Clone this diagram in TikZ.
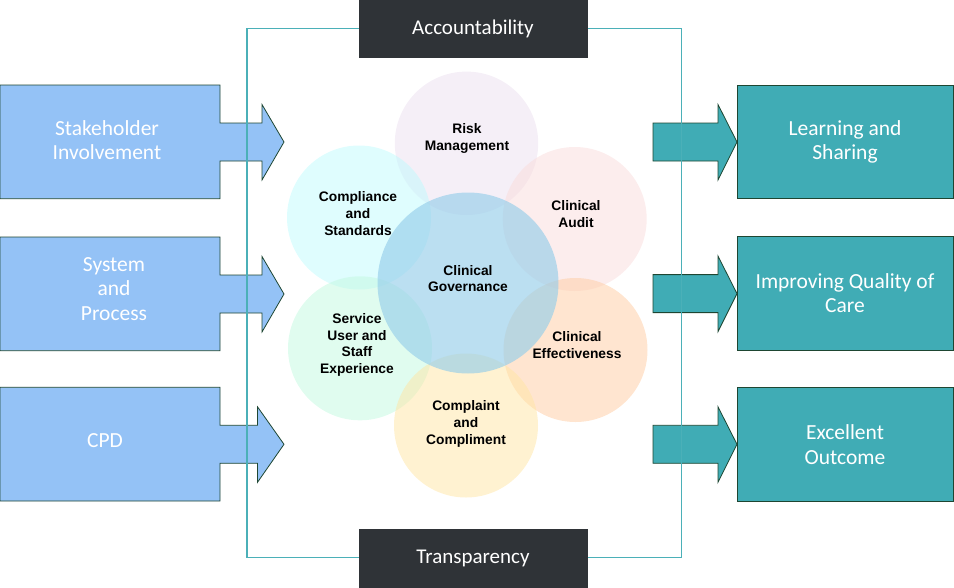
\documentclass[tikz,border=0pt]{standalone}
\usepackage{fontspec}
\setmainfont{Carlito}
\newfontfamily\arialfont{Liberation Sans}
\definecolor{lblue}{RGB}{148,194,246}
\definecolor{teal1}{RGB}{64,172,181}
\definecolor{edgegreen}{RGB}{30,70,50}
\definecolor{darkbox}{RGB}{47,51,55}
\definecolor{framec}{RGB}{75,176,184}
\definecolor{cRisk}{RGB}{235,223,239}
\definecolor{cComp}{RGB}{191,251,253}
\definecolor{cAudit}{RGB}{249,219,219}
\definecolor{cServ}{RGB}{193,249,223}
\definecolor{cEff}{RGB}{255,203,161}
\definecolor{cCompl}{RGB}{255,229,163}
\definecolor{cGov}{RGB}{150,206,234}
\begin{document}
\begin{tikzpicture}[x=1pt,y=-1pt,
  larrowshape/.style={fill=lblue,draw=edgegreen,line width=0.8pt},
  rarrowshape/.style={fill=teal1,draw=edgegreen,line width=0.8pt},
  sidetext/.style={text=white,align=center,font=\fontsize{21.5}{24.5}\selectfont},
  darkrect/.style={fill=darkbox,draw=darkbox},
  darktext/.style={text=white,font=\fontsize{21}{24}\selectfont},
  framestyle/.style={draw=framec,line width=1.9pt},
  petal/.style={fill opacity=0.5},
  circtext/.style={align=center,text=black,font=\arialfont\bfseries\fontsize{13.8}{16.7}\selectfont}
]
\useasboundingbox (0,0) rectangle (954,587);

% left arrows
\foreach \yc/\hb in {142/262,294/262,444.3/257.5} {
  \filldraw[larrowshape] (0,\yc-57) -- (220,\yc-57) -- (220,\yc-19) -- (\hb,\yc-19) -- (\hb,\yc-37.5)
    -- (284,\yc) -- (\hb,\yc+38) -- (\hb,\yc+19) -- (220,\yc+19) -- (220,\yc+56.7) -- (0,\yc+56.7) -- cycle;
}
% right arrows
\foreach \yc in {142,293.6,444.3} {
  \filldraw[rarrowshape] (653,\yc-19) -- (718,\yc-19) -- (718,\yc-37.5) -- (737,\yc) -- (718,\yc+38)
    -- (718,\yc+19) -- (653,\yc+19) -- cycle;
  \filldraw[rarrowshape] (737.5,\yc-57) rectangle (953.3,\yc+56.7);
}

% frame
\draw[framestyle] (246.7,28.5) rectangle (681.5,557.5);

% dark boxes
\filldraw[darkrect] (359,0) rectangle (587,57);
\filldraw[darkrect] (359,529) rectangle (587,587);
\node[darktext] (acc) at (473,28.5) {Accountability};
\node[darktext] (tra) at (473,558.5) {Transparency};

% side texts
\node[sidetext] (stake) at (107,140) {Stakeholder\\Involvement};
\node[sidetext] (sys) at (114,289) {System\\and\\Process};
\node[sidetext] (cpd) at (105,441) {CPD};
\node[sidetext] (learn) at (845,142) {Learning and\\Sharing};
\node[sidetext] (impr) at (845,293) {Improving Quality of\\Care};
\node[sidetext] (exc) at (845,444.5) {Excellent\\Outcome};

% circles
\fill[petal,cRisk] (466.5,143.3) circle (71.7);
\fill[petal,cComp] (359,217.5) circle (72);
\fill[petal,cAudit] (574.7,219) circle (72);
\fill[petal,cServ] (360,348.3) circle (72);
\fill[petal,cEff] (575.5,350) circle (72);
\fill[petal,cCompl] (466,425.5) circle (72);
\fill[cGov,fill opacity=0.65] (468,283) circle (90.5);

\node[circtext] (risk) at (467,138.5) {Risk\\Management};
\node[circtext] (compl) at (358,213.5) {Compliance\\and\\Standards};
\node[circtext] (audit) at (576,214) {Clinical\\Audit};
\node[circtext] (gov) at (468,278.5) {Clinical\\Governance};
\node[circtext] (serv) at (357,345) {Service\\User and\\Staff\\Experience};
\node[circtext] (eff) at (577,345) {Clinical\\Effectiveness};
\node[circtext] (cc) at (466,424) {Complaint\\and\\Compliment};
\end{tikzpicture}
\end{document}
